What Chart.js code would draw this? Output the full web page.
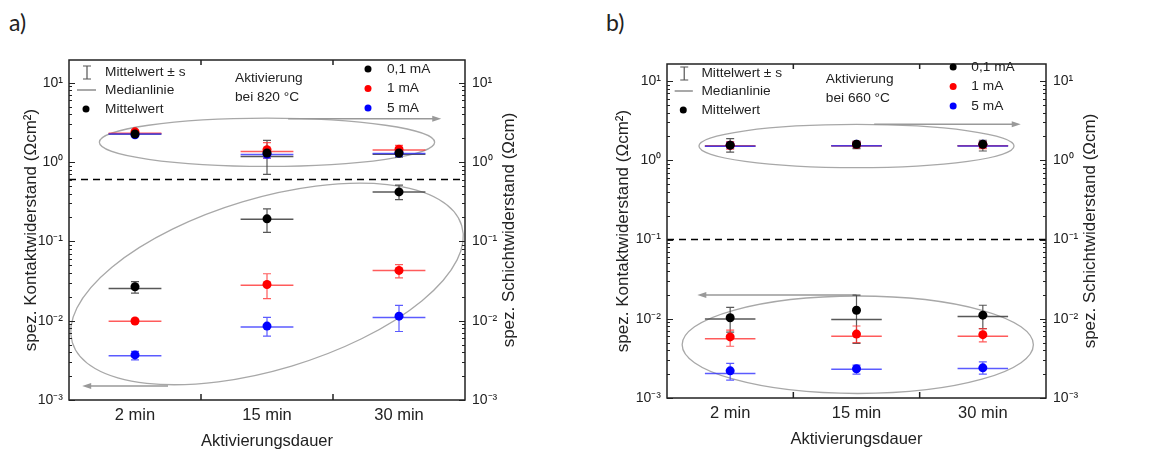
<!DOCTYPE html>
<html lang="de">
<head>
<meta charset="utf-8">
<title>Kontakt- und Schichtwiderstand</title>
<script src="https://cdn.jsdelivr.net/npm/chart.js@4.4.1/dist/chart.umd.min.js"></script>
<style>
  html, body { margin: 0; padding: 0; background: #fff; }
  #wrap { position: relative; width: 1163px; height: 453px; overflow: hidden; }
  canvas { position: absolute; top: 0; }
  #cA { left: 0; }
  #cB { left: 580px; }
  .tag { position: absolute; top: 11px; font-family: Lato, 'Open Sans', sans-serif; font-size: 23px; line-height: 1; color: #222; }
</style>
</head>
<body>
<div id="wrap">
  <div class="tag" style="left:9px">a)</div>
  <div class="tag" style="left:606px">b)</div>
  <canvas id="cA" width="580" height="453"></canvas>
  <canvas id="cB" width="583" height="453"></canvas>
</div>
<script>
// Werte (log. Achse, daher geschaetzt)
const kategorien = ['2 min', '15 min', '30 min'];
const stroeme = ['0,1 mA', '1 mA', '5 mA'];
const farben = ['#000000', '#ff0000', '#0000ff'];
const farbenLinie = ['rgba(70,70,70,0.9)', 'rgba(255,50,50,0.8)', 'rgba(50,50,255,0.8)'];

// a) Aktivierung bei 820 °C  -- Zeilen: 0,1 mA / 1 mA / 5 mA
const aSchichtMittel = [[2.25, 1.30, 1.30], [2.40, 1.43, 1.45], [2.20, 1.26, 1.30]];
const aSchichtUnten  = [[2.12, 0.70, 1.15], [2.28, 1.12, 1.30], [2.10, 1.12, 1.18]];
const aSchichtOben   = [[2.40, 1.87, 1.50], [2.52, 1.75, 1.62], [2.32, 1.40, 1.42]];
const aSchichtMedian = [[2.25, 1.17, 1.25], [2.30, 1.36, 1.42], [2.25, 1.24, 1.28]];

const aKontaktMittel = [[0.0268, 0.192, 0.42], [0.0099, 0.0286, 0.043], [0.0037, 0.00855, 0.0114]];
const aKontaktUnten  = [[0.0222, 0.130, 0.336], [0.0094, 0.019, 0.0347], [0.0032, 0.0064, 0.0073]];
const aKontaktOben   = [[0.031, 0.256, 0.51], [0.0104, 0.039, 0.051], [0.0041, 0.011, 0.0156]];
const aKontaktMedian = [[0.0255, 0.19, 0.42], [0.0098, 0.028, 0.043], [0.0036, 0.0083, 0.011]];

// b) Aktivierung bei 660 °C
const bSchichtMittel = [[1.55, 1.59, 1.59], [1.55, 1.58, 1.58], [1.55, 1.59, 1.59]];
const bSchichtUnten  = [[1.27, 1.40, 1.31], [1.38, 1.46, 1.40], [1.42, 1.48, 1.45]];
const bSchichtOben   = [[1.88, 1.75, 1.79], [1.72, 1.70, 1.70], [1.68, 1.68, 1.68]];
const bSchichtMedian = [[1.51, 1.52, 1.52], [1.51, 1.52, 1.53], [1.50, 1.52, 1.51]];

const bKontaktMittel = [[0.0103, 0.0128, 0.0111], [0.0059, 0.0064, 0.0063], [0.0022, 0.00234, 0.0024]];
const bKontaktUnten  = [[0.0068, 0.0049, 0.0075], [0.0045, 0.0050, 0.0051], [0.00168, 0.0020, 0.0020]];
const bKontaktOben   = [[0.0139, 0.0199, 0.0148], [0.0072, 0.0081, 0.0075], [0.00273, 0.0026, 0.00285]];
const bKontaktMedian = [[0.0099, 0.0098, 0.0107], [0.0056, 0.0060, 0.0060], [0.00204, 0.0023, 0.00235]];

const SCHRIFT = "'Liberation Sans', Arial, sans-serif";
const hoch = { '0': '⁰', '1': '¹', '2': '²', '3': '³', '-': '⁻' };

function istZehner(v) {
  const l = Math.log10(v);
  return Math.abs(l - Math.round(l)) < 1e-6;
}
function zehnerLabel(v) {
  if (!istZehner(v)) return '';
  const e = String(Math.round(Math.log10(v)));
  return '10' + e.split('').map(c => hoch[c]).join('');
}

// datensaetze fuer ein panel bauen: Schicht (rechte Achse) + Kontakt (linke Achse)
function baueDatensaetze(sch, kon) {
  const out = [];
  [[sch, 'y2'], [kon, 'y']].forEach(([g, achse]) => {
    for (let s = 0; s < 3; s++) {
      out.push({
        label: stroeme[s],
        yAxisID: achse,
        data: g.mittel[s].map((v, i) => ({ x: i, y: v })),
        unten: g.unten[s], oben: g.oben[s], median: g.median[s],
        linie: farbenLinie[s],
        backgroundColor: farben[s],
        pointRadius: 4.5,
        pointBorderWidth: 0,
        showLine: false
      });
    }
  });
  // schwarz zuerst, blau zuletzt (oben)
  return [out[0], out[3], out[1], out[4], out[2], out[5]];
}

// zeichnet fehlerbalken, medianlinien, ellipsen, pfeile, rahmen, ticks, legende
const zeichner = {
  id: 'zeichner',
  beforeDatasetsDraw(chart, args, o) {
    const { ctx, chartArea: ca, scales } = chart;
    const x = scales.x, y = scales.y;
    ctx.save();

    // gestrichelte trennlinie
    const yd = y.getPixelForValue(o.trenn);
    ctx.strokeStyle = '#000';
    ctx.lineWidth = 1.5;
    ctx.setLineDash([7, 5]);
    ctx.beginPath(); ctx.moveTo(ca.left, yd); ctx.lineTo(ca.right, yd); ctx.stroke();
    ctx.setLineDash([]);

    // ellipsen
    ctx.strokeStyle = '#a8a8a8';
    ctx.lineWidth = 1.3;
    o.ellipsen.forEach(e => {
      const cx = x.getPixelForValue(e.x), cy = y.getPixelForValue(e.y);
      const rx = Math.abs(x.getPixelForValue(e.x + e.rx) - cx);
      const ry = Math.abs(y.getPixelForValue(e.y * Math.pow(10, e.ry)) - cy);
      ctx.beginPath();
      ctx.ellipse(cx, cy, rx, ry, -(e.rot || 0) * Math.PI / 180, 0, 2 * Math.PI);
      ctx.stroke();
    });

    // pfeile
    o.pfeile.forEach(p => {
      const x1 = x.getPixelForValue(p.x1), x2 = x.getPixelForValue(p.x2), py = y.getPixelForValue(p.y);
      const d = Math.sign(x2 - x1);
      ctx.strokeStyle = '#999';
      ctx.fillStyle = '#999';
      ctx.lineWidth = 1.5;
      ctx.beginPath(); ctx.moveTo(x1, py); ctx.lineTo(x2 - d * 6, py); ctx.stroke();
      ctx.beginPath(); ctx.moveTo(x2, py); ctx.lineTo(x2 - d * 9, py - 3); ctx.lineTo(x2 - d * 9, py + 3); ctx.closePath(); ctx.fill();
    });

    // medianlinien + fehlerbalken
    chart.data.datasets.forEach(ds => {
      const ys = scales[ds.yAxisID];
      ctx.strokeStyle = ds.linie;
      ctx.lineWidth = 1.5;
      ds.median.forEach((m, i) => {
        const pm = ys.getPixelForValue(m);
        ctx.beginPath();
        ctx.moveTo(x.getPixelForValue(i - 0.2), pm);
        ctx.lineTo(x.getPixelForValue(i + 0.2), pm);
        ctx.stroke();
      });
      ctx.lineWidth = 1.2;
      ds.unten.forEach((u, i) => {
        const px = x.getPixelForValue(i);
        const pu = ys.getPixelForValue(u), po = ys.getPixelForValue(ds.oben[i]);
        ctx.beginPath();
        ctx.moveTo(px, pu); ctx.lineTo(px, po);
        ctx.moveTo(px - 4, pu); ctx.lineTo(px + 4, pu);
        ctx.moveTo(px - 4, po); ctx.lineTo(px + 4, po);
        ctx.stroke();
      });
    });
    ctx.restore();
  },
  afterDraw(chart, args, o) {
    const { ctx, chartArea: ca, scales } = chart;
    const x = scales.x, y = scales.y;
    ctx.save();
    // rahmen
    ctx.strokeStyle = '#222';
    ctx.lineWidth = 1.5;
    ctx.strokeRect(ca.left, ca.top, ca.right - ca.left, ca.bottom - ca.top);

    // ticks nach innen (log-achse links und rechts)
    ctx.lineWidth = 1;
    y.ticks.forEach(t => {
      const v = t.value;
      const m = v / Math.pow(10, Math.floor(Math.log10(v) + 1e-9));
      if (Math.abs(m - Math.round(m)) > 1e-6) return;
      const py = Math.round(y.getPixelForValue(v)) + 0.5;
      const len = istZehner(v) ? 6 : 3;
      ctx.beginPath();
      ctx.moveTo(ca.left, py); ctx.lineTo(ca.left + len, py);
      ctx.moveTo(ca.right, py); ctx.lineTo(ca.right - len, py);
      ctx.stroke();
    });
    // x-ticks an den kategoriegrenzen
    ctx.lineWidth = 1.5;
    [0.5, 1.5].forEach(v => {
      const px = x.getPixelForValue(v);
      ctx.beginPath();
      ctx.moveTo(px, ca.top); ctx.lineTo(px, ca.top + 5);
      ctx.moveTo(px, ca.bottom); ctx.lineTo(px, ca.bottom - 6);
      ctx.stroke();
    });

    // rechter achsentitel (von unten nach oben)
    ctx.fillStyle = '#222';
    ctx.font = '17px ' + SCHRIFT;
    ctx.textAlign = 'center';
    ctx.textBaseline = 'middle';
    ctx.save();
    ctx.translate(ca.right + 44, (ca.top + ca.bottom) / 2);
    ctx.rotate(-Math.PI / 2);
    ctx.fillText('spez. Schichtwiderstand (Ωcm)', 0, 0);
    ctx.restore();

    // legende im diagramm
    const L = o.legende, sx = L.sx;
    const lx = v => ca.left + v * sx, ly = v => ca.top + v + L.dy;
    const ry = v => ca.top + v + L.dyRechts;
    ctx.font = '13.7px ' + SCHRIFT;
    ctx.textAlign = 'left';
    ctx.fillStyle = '#222';
    ctx.strokeStyle = '#555';
    ctx.lineWidth = 1.2;
    const ex = lx(18);
    ctx.beginPath();
    ctx.moveTo(ex, ly(6)); ctx.lineTo(ex, ly(19));
    ctx.moveTo(ex - 4, ly(6)); ctx.lineTo(ex + 4, ly(6));
    ctx.moveTo(ex - 4, ly(19)); ctx.lineTo(ex + 4, ly(19));
    ctx.moveTo(lx(8), ly(30)); ctx.lineTo(lx(27), ly(30));
    ctx.stroke();
    ctx.fillStyle = '#000';
    ctx.beginPath(); ctx.arc(lx(17), ly(49), 3.5, 0, 2 * Math.PI); ctx.fill();
    ctx.fillStyle = '#222';
    ctx.fillText('Mittelwert ± s', lx(36), ly(12));
    ctx.fillText('Medianlinie', lx(36), ly(30));
    ctx.fillText('Mittelwert', lx(36), ly(49));
    ctx.fillText('Aktivierung', lx(166), ly(18));
    ctx.fillText(L.temp, lx(166), ly(37));
    [9, 28.5, 48].forEach((dy, s) => {
      ctx.fillStyle = farben[s];
      ctx.beginPath(); ctx.arc(lx(299), ry(dy), 3.5, 0, 2 * Math.PI); ctx.fill();
      ctx.fillStyle = '#222';
      ctx.fillText(stroeme[s], lx(318), ry(dy));
    });
    ctx.restore();
  }
};

function baueChart(id, p) {
  const yAchse = (pos, extra) => Object.assign({
    type: 'logarithmic',
    position: pos,
    min: 0.001,
    max: p.ymax,
    grid: { display: false, drawTicks: false },
    border: { display: false },
    ticks: {
      autoSkip: false,
      padding: 6,
      color: '#222',
      font: { family: SCHRIFT, size: 14 },
      callback: v => zehnerLabel(v)
    }
  }, extra);

  return new Chart(document.getElementById(id), {
    type: 'scatter',
    data: { datasets: baueDatensaetze(p.schicht, p.kontakt) },
    options: {
      responsive: false,
      animation: false,
      events: [],
      layout: { padding: { left: p.padLinks, right: 0, top: p.padOben, bottom: 0 } },
      plugins: {
        legend: { display: false },
        tooltip: { enabled: false },
        zeichner: { trenn: p.trenn, ellipsen: p.ellipsen, pfeile: p.pfeile, legende: p.legende }
      },
      scales: {
        x: {
          type: 'linear',
          min: -0.5, max: 2.5,
          grid: { display: false, drawTicks: false },
          border: { display: false },
          afterBuildTicks: s => { s.ticks = kategorien.map((_, i) => ({ value: i })); },
          afterFit: s => { s.height = p.xHoehe; },
          ticks: {
            padding: 6,
            color: '#222',
            font: { family: SCHRIFT, size: 16.5 },
            callback: v => kategorien[v] || ''
          },
          title: {
            display: true,
            text: 'Aktivierungsdauer',
            color: '#222',
            font: { family: SCHRIFT, size: 16.5 },
            padding: { top: 0, bottom: p.titelUnten }
          }
        },
        y: yAchse('left', {
          afterFit: s => { s.width = p.breiteLinks; },
          title: {
            display: true,
            text: 'spez. Kontaktwiderstand (Ωcm²)',
            color: '#222',
            font: { family: SCHRIFT, size: 17 },
            padding: { top: p.titelLinks, bottom: 0 }
          }
        }),
        y2: yAchse('right', {
          afterFit: s => { s.width = p.breiteRechts; },
          ticks: {
            autoSkip: false, padding: 7, color: '#222',
            font: { family: SCHRIFT, size: 14 },
            callback: v => zehnerLabel(v)
          }
        })
      }
    },
    plugins: [zeichner]
  });
}

baueChart('cA', {
  schicht: { mittel: aSchichtMittel, unten: aSchichtUnten, oben: aSchichtOben, median: aSchichtMedian },
  kontakt: { mittel: aKontaktMittel, unten: aKontaktUnten, oben: aKontaktOben, median: aKontaktMedian },
  ymax: 19.3, trenn: 0.6,
  padLinks: 14, padOben: 60, breiteLinks: 55, breiteRechts: 115, xHoehe: 53, titelUnten: 2, titelLinks: 7.5,
  ellipsen: [
    { x: 1.0, y: 1.77, rx: 1.27, ry: 0.304 },
    { x: 1.0, y: 0.029, rx: 1.54, ry: 1.08, rot: 16.7 }
  ],
  pfeile: [
    { x1: 1.16, x2: 2.32, y: 3.5 },
    { x1: 0.25, x2: -0.4, y: 0.0015 }
  ],
  legende: { sx: 1, dy: 0, dyRechts: 0, temp: 'bei 820 °C' }
});

baueChart('cB', {
  schicht: { mittel: bSchichtMittel, unten: bSchichtUnten, oben: bSchichtOben, median: bSchichtMedian },
  kontakt: { mittel: bKontaktMittel, unten: bKontaktUnten, oben: bKontaktOben, median: bKontaktMedian },
  ymax: 16.4, trenn: 0.1,
  padLinks: 25, padOben: 64, breiteLinks: 62, breiteRechts: 117, xHoehe: 55, titelUnten: 4, titelLinks: 7.8,
  ellipsen: [
    { x: 1.0, y: 1.51, rx: 1.247, ry: 0.273 },
    { x: 1.01, y: 0.0047, rx: 1.39, ry: 0.615 }
  ],
  pfeile: [
    { x1: 1.14, x2: 2.30, y: 2.84 },
    { x1: 1.0, x2: -0.26, y: 0.0199 }
  ],
  legende: { sx: 0.957, dy: -3, dyRechts: -6, temp: 'bei 660 °C' }
});
</script>
</body>
</html>
